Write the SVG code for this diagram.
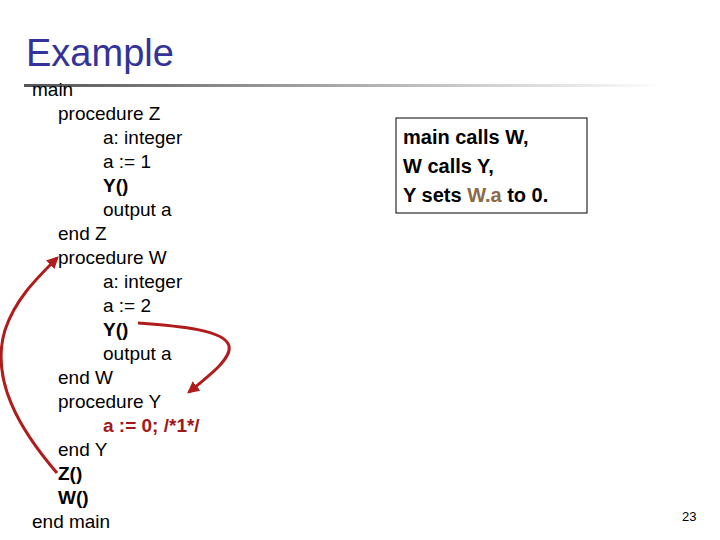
<svg xmlns="http://www.w3.org/2000/svg" width="720" height="540" viewBox="0 0 720 540">
<defs>
<linearGradient id="g" x1="0" x2="1" y1="0" y2="0"><stop offset="0" stop-color="#555"/><stop offset="0.4" stop-color="#999"/><stop offset="1" stop-color="#fff"/></linearGradient>
<marker id="ah" viewBox="0 0 10 10" refX="8" refY="5" markerWidth="4" markerHeight="4" orient="auto"><path d="M0,0 L10,5 L0,10 z" fill="#b01c1c"/></marker>
</defs>
<style>
text{font-family:"Liberation Sans",Arial,sans-serif;font-size:19px;fill:#000}
.b{font-weight:bold}
.r{fill:#a01818}
.c{stroke:#b01c1c;stroke-width:3;fill:none;marker-end:url(#ah)}
</style>
<rect width="720" height="540" fill="#fff"/>
<text x="26" y="66" style="font-size:38px;fill:#333399">Example</text>
<rect x="24" y="84" width="640" height="3" fill="url(#g)"/>
<g id="code">
<text x="32" y="96">main</text>
<text x="58" y="120">procedure Z</text>
<text x="103" y="144">a: integer</text>
<text x="103" y="168">a := 1</text>
<text x="103" y="192" class="b">Y()</text>
<text x="103" y="216">output a</text>
<text x="58" y="240">end Z</text>
<text x="58" y="264">procedure W</text>
<text x="103" y="288">a: integer</text>
<text x="103" y="312">a := 2</text>
<text x="103" y="336" class="b">Y()</text>
<text x="103" y="360">output a</text>
<text x="58" y="384">end W</text>
<text x="58" y="408">procedure Y</text>
<text x="103" y="432" class="b r">a := 0; /*1*/</text>
<text x="58" y="456">end Y</text>
<text x="58" y="480" class="b">Z()</text>
<text x="58" y="504" class="b">W()</text>
<text x="32" y="528">end main</text>
</g>
<g id="note">
<rect x="396" y="118" width="191" height="95" fill="#fff" stroke="#000" stroke-width="1"/>
<text x="403" y="144" class="b" style="font-size:20px">main calls W,</text>
<text x="403" y="173" class="b" style="font-size:20px">W calls Y,</text>
<text x="403" y="202" class="b" style="font-size:20px">Y sets <tspan style="fill:#8b6a48">W.a</tspan> to 0.</text>
</g>
<g id="connectors">
<path class="c" d="M57,473 C20,430 -10,380 5,330 C15,300 35,280 57,258"/>
<path class="c" d="M138,323 C180,326 225,330 229,346 C232,358 210,375 189,392"/>
</g>
<text x="682" y="521" style="font-size:13px">23</text>
</svg>
